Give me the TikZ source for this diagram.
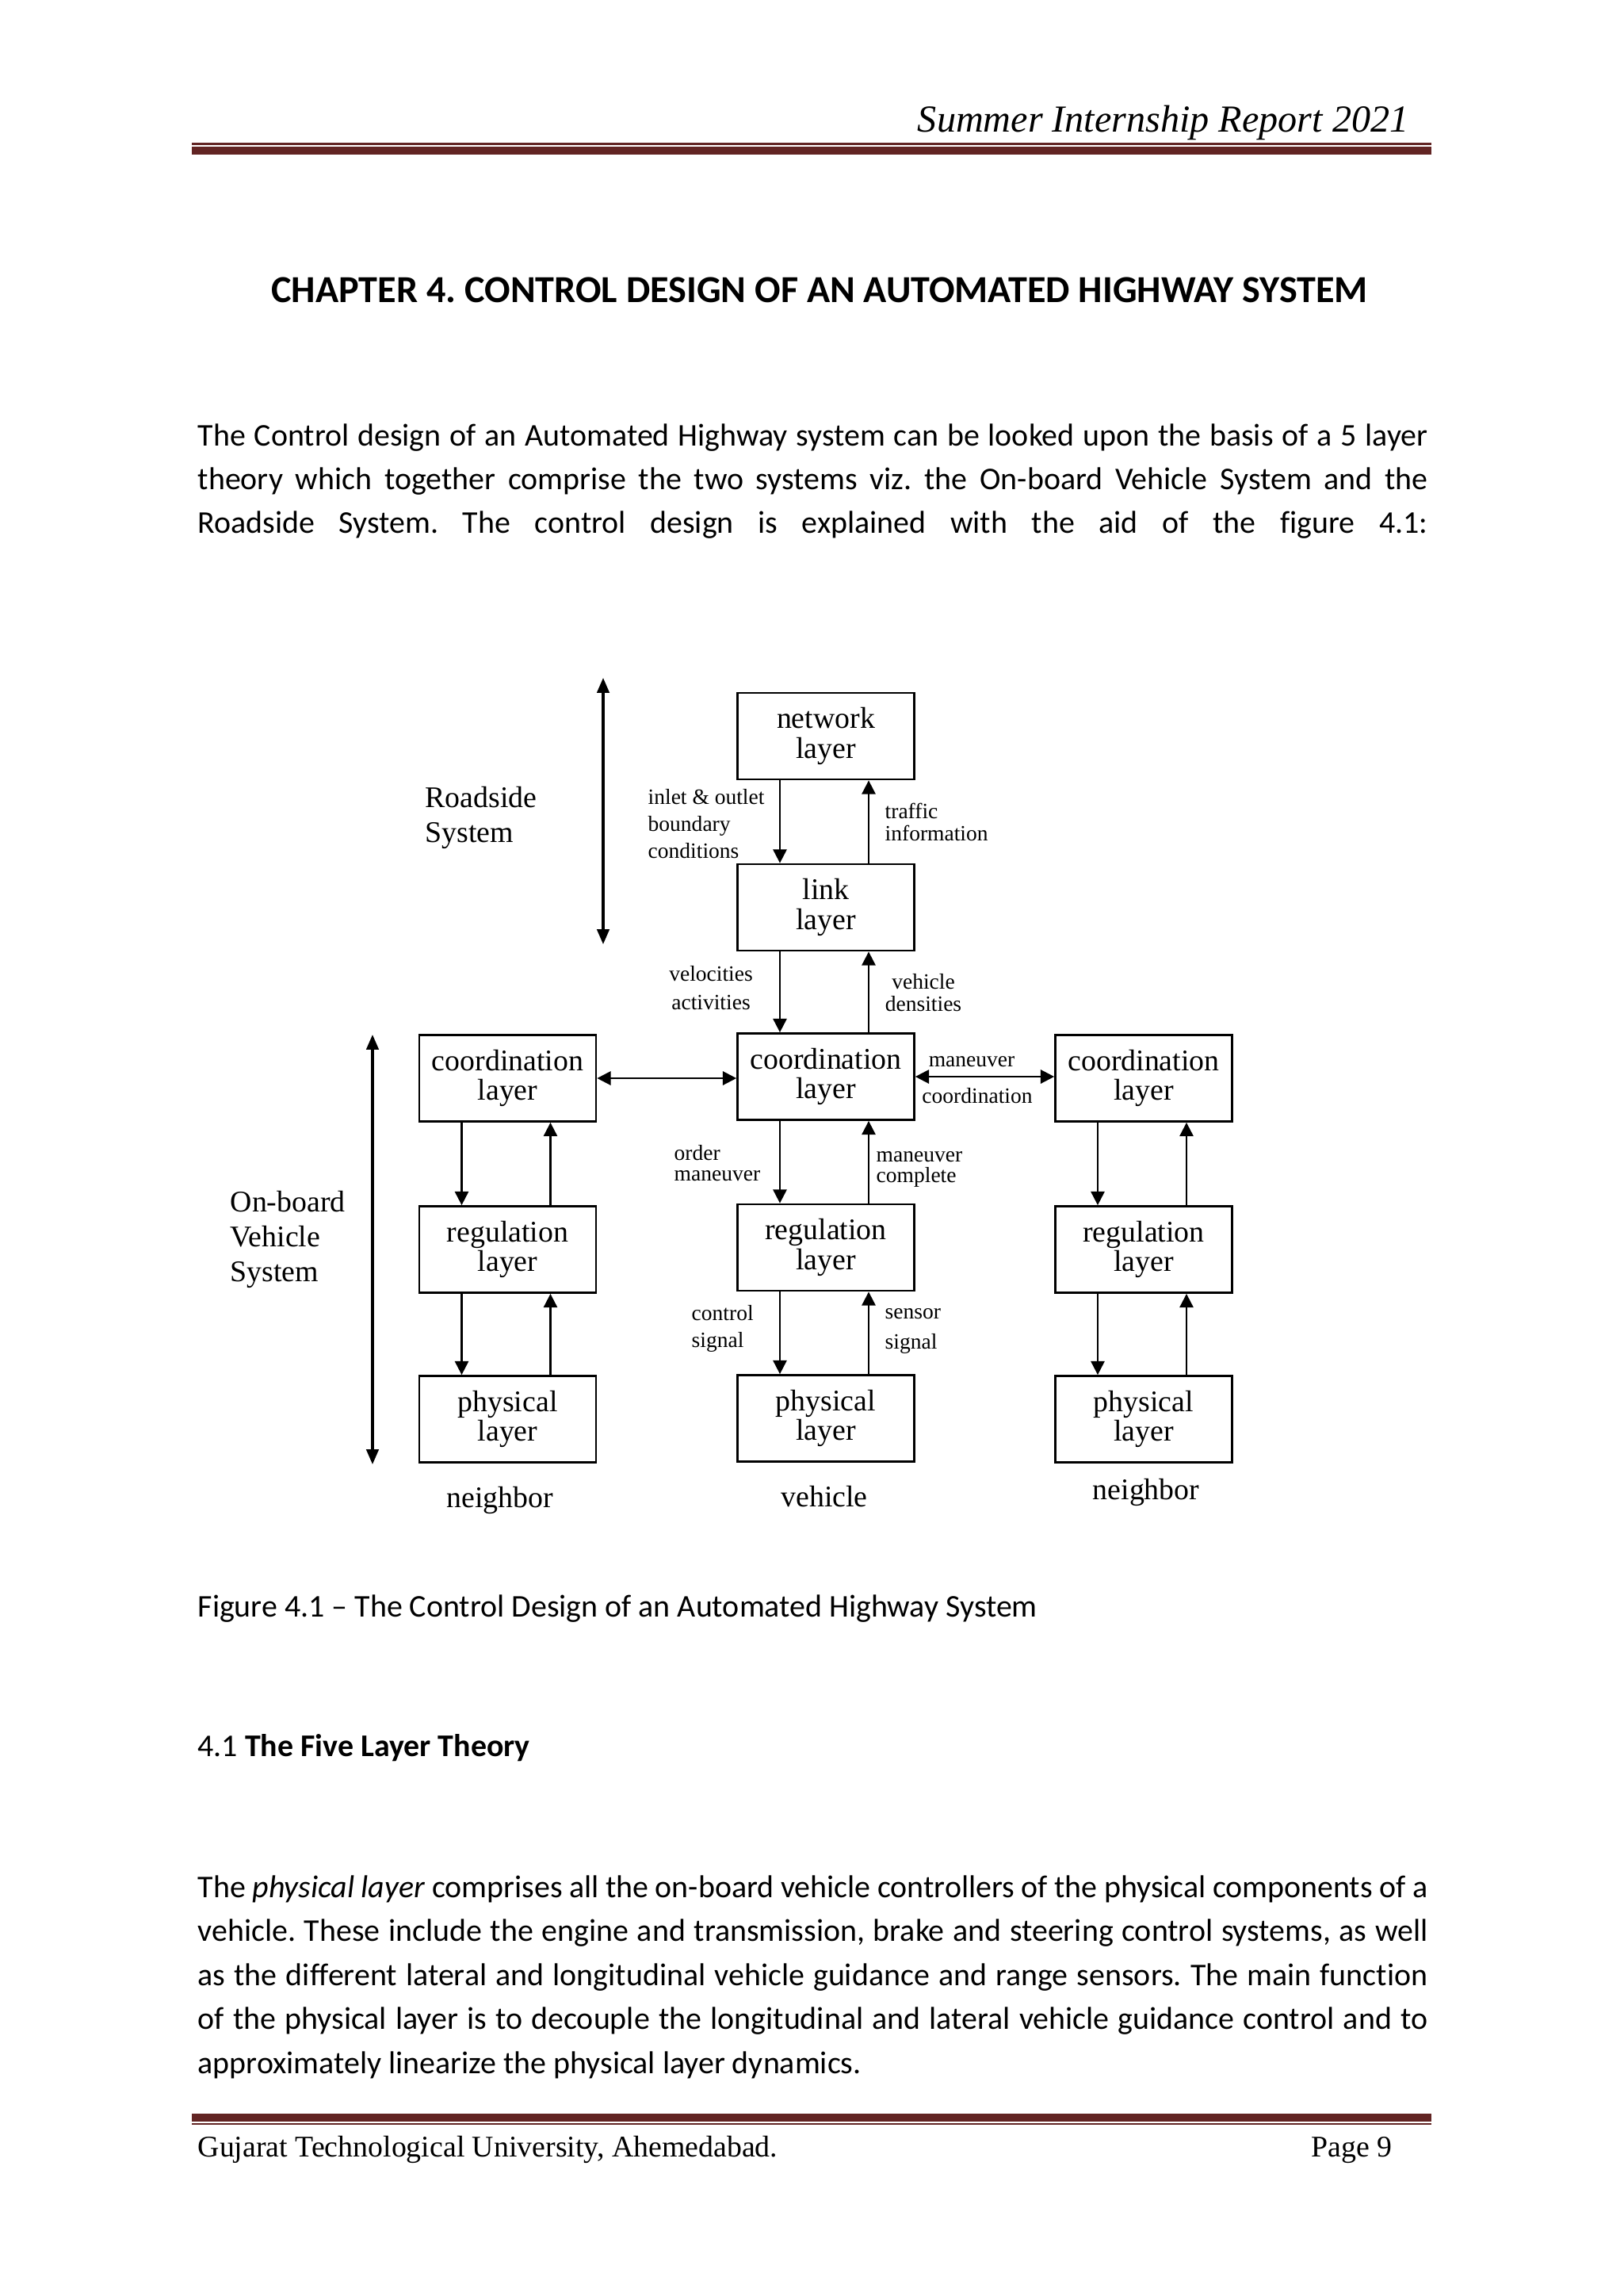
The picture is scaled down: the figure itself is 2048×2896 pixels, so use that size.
\documentclass[tikz,border=0pt]{standalone}
\usepackage{fontspec}
\setmainfont{Carlito}[Ligatures=NoCommon]
\newfontfamily\tnr{Liberation Serif}
\usetikzlibrary{arrows.meta,calc}
\definecolor{rulered}{HTML}{622423}
\newlength\bodyw
\setlength\bodyw{451.1pt}
\frenchspacing
\begin{document}
\frenchspacing
\begin{tikzpicture}[x=0.29067pt, y=-0.29067pt,
  box/.style={draw, line width=0.8pt, minimum width=64.8pt, minimum height=31.7pt,
    inner sep=0pt, align=center, font=\tnr\fontsize{11}{11}\selectfont},
  lbl/.style={inner sep=0pt, font=\tnr\fontsize{8}{10}\selectfont},
  side/.style={inner sep=0pt, align=left, font=\tnr\fontsize{11}{12.8}\selectfont},
  foot/.style={inner sep=0pt, font=\tnr\fontsize{11}{11}\selectfont},
  arr/.style={-{Triangle[length=5pt,width=5pt]}, line width=0.6pt},
  darr/.style={{Triangle[length=5pt,width=5pt]}-{Triangle[length=5pt,width=5pt]}, line width=0.7pt},
  sarr/.style={{Triangle[length=5.5pt,width=4.5pt]}-{Triangle[length=5.5pt,width=4.5pt]}, line width=0.9pt},
  body/.style={anchor=base west, inner sep=0pt, font=\fontsize{11.6}{14}\selectfont}]
\useasboundingbox (0,0) rectangle (2048,2896);
\fill[white] (0,0) rectangle (2048,2896);

% header
\node[anchor=base east, inner sep=0pt, font=\tnr\itshape\fontsize{14}{14}\selectfont] (hdr) at (1778,166) {Summer Internship Report 2021};
\fill[rulered] (242,180) rectangle (1806,182.5);
\fill[rulered] (242,185) rectangle (1806,195);

% chapter title
\node[anchor=base, inner sep=0pt, font=\bfseries\fontsize{14}{14}\selectfont] (title) at (1034,381) {CHAPTER 4. CONTROL DESIGN OF AN AUTOMATED HIGHWAY SYSTEM};

% paragraph 1
\node[body] (a1) at (249,562) {\makebox[\bodyw][s]{The Control design of an Automated Highway system can be looked upon the basis of a 5 layer}};
\node[body] (a2) at (249,617) {\makebox[\bodyw][s]{theory which together comprise the two systems viz. the On-board Vehicle System and the}};
\node[body] (a3) at (249,672) {\makebox[\bodyw][s]{Roadside System. The control design is explained with the aid of the figure 4.1:}};

% diagram boxes
\node[box] (net) at (1042,928.5) {network\\layer};
\node[box] (link) at (1042,1144.5) {link\\layer};
\node[box] (coordC) at (1042,1358) {coordination\\layer};
\node[box] (coordL) at (640.5,1360) {coordination\\layer};
\node[box] (coordR) at (1443,1360) {coordination\\layer};
\node[box] (regC) at (1042,1573.5) {regulation\\layer};
\node[box] (regL) at (640.5,1576) {regulation\\layer};
\node[box] (regR) at (1443,1576) {regulation\\layer};
\node[box] (phyC) at (1042,1789) {physical\\layer};
\node[box] (phyL) at (640.5,1790) {physical\\layer};
\node[box] (phyR) at (1443,1790) {physical\\layer};

% vertical arrows
\foreach \a/\b in {net/link, link/coordC, coordC/regC, regC/phyC, coordL/regL, regL/phyL, coordR/regR, regR/phyR}{
  \draw[arr] ($(\a.south)+(-58,0)$) -- ($(\b.north)+(-58,0)$);
  \draw[arr] ($(\b.north)+(54,0)$) -- ($(\a.south)+(54,0)$);
}

% horizontal arrows
\draw[darr] (coordL.east) -- (coordL.east -| coordC.west);
\draw[darr] (coordC.east) -- (coordC.east -| coordR.west);

% side arrows
\coordinate (rsTop) at (761,855);
\coordinate (rsBot) at (761,1191);
\draw[sarr] (rsTop) -- (rsBot);
\coordinate (obTop) at (470,1305);
\coordinate (obBot) at (470,1847);
\draw[sarr] (obTop) -- (obBot);

\node[side, anchor=west] (roadside) at (536,1031) {Roadside\\System};
\node[side, anchor=west] (onboard) at (290,1563) {On-board\\Vehicle\\System};

% connector labels
\node[lbl, anchor=west, align=left, font=\tnr\fontsize{8}{9.9}\selectfont] (l1) at (817,1039) {inlet \& outlet\\boundary\\conditions};
\node[lbl, anchor=west, align=left, font=\tnr\fontsize{8}{8.3}\selectfont] (l2) at (1116,1037) {traffic\\information};
\node[lbl, align=center, font=\tnr\fontsize{8}{10.5}\selectfont] (l3) at (897,1246) {velocities\\activities};
\node[lbl, align=center, font=\tnr\fontsize{8}{8.3}\selectfont] (l4) at (1165,1252) {vehicle\\densities};
\node[lbl] (l5) at (1226,1339) {maneuver};
\node[lbl] (l6) at (1233,1382) {coordination};
\node[lbl, anchor=west, align=left, font=\tnr\fontsize{8}{7.8}\selectfont] (l7) at (850,1467) {order\\maneuver};
\node[lbl, anchor=west, align=left, font=\tnr\fontsize{8}{7.8}\selectfont] (l8) at (1105,1475) {maneuver\\complete};
\node[lbl, anchor=west, align=left, font=\tnr\fontsize{8}{9.8}\selectfont] (l9) at (872,1676) {control\\signal};
\node[lbl, anchor=west, align=left, font=\tnr\fontsize{8}{11}\selectfont] (l10) at (1116,1679) {sensor\\signal};

\node[foot] (nb1) at (631,1892) {neighbor};
\node[foot] (veh) at (1040,1888) {vehicle};
\node[foot] (nb2) at (1446,1882) {neighbor};

% caption and section
\node[body] (cap) at (249,2039) {Figure 4.1 -- The Control Design of an Automated Highway System};
\node[body] (sec) at (249,2215) {4.1 \textbf{The Five Layer Theory}};

% paragraph 2
\node[body] (b1) at (249,2393) {\makebox[\bodyw][s]{The \textit{physical layer} comprises all the on-board vehicle controllers of the physical components of a}};
\node[body] (b2) at (249,2448) {\makebox[\bodyw][s]{vehicle. These include the engine and transmission, brake and steering control systems, as well}};
\node[body] (b3) at (249,2504) {\makebox[\bodyw][s]{as the different lateral and longitudinal vehicle guidance and range sensors. The main function}};
\node[body] (b4) at (249,2559) {\makebox[\bodyw][s]{of the physical layer is to decouple the longitudinal and lateral vehicle guidance control and to}};
\node[body] (b5) at (249,2615) {approximately linearize the physical layer dynamics.};

% footer
\fill[rulered] (242,2666) rectangle (1806,2676);
\fill[rulered] (242,2678) rectangle (1806,2680);
\node[anchor=base west, foot] (ftl) at (249,2720) {Gujarat Technological University, Ahemedabad.};
\node[anchor=base east, foot] (ftr) at (1757,2720) {Page 9};
\end{tikzpicture}
\end{document}
